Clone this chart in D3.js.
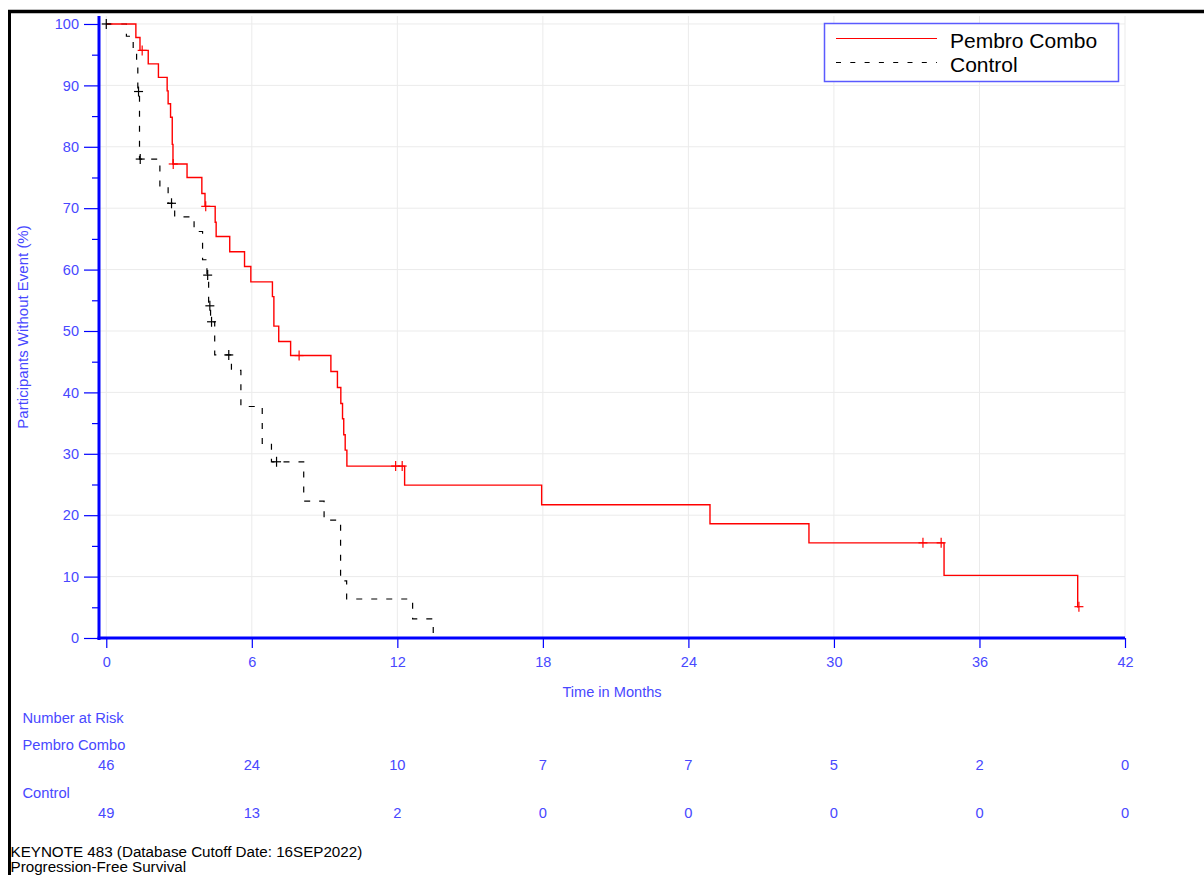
<!DOCTYPE html>
<html>
<head>
<meta charset="utf-8">
<script src="https://cdn.jsdelivr.net/npm/d3@7"></script>
<style>
  body { margin: 0; background: #fff; }
  svg text { font-family: "Liberation Sans", Arial, sans-serif; }
</style>
</head>
<body>
<div id="chart"></div>
<script>
// Kaplan-Meier steps (months, % without event)
var pembroTimes = [0, 1.22, 1.39, 1.73, 2.15, 2.51, 2.55, 2.65, 2.72, 2.75, 3.33, 3.94, 4.07, 4.49, 4.53, 5.09, 5.70, 5.96, 6.85, 6.91, 7.11, 7.60, 9.26, 9.53, 9.67, 9.74, 9.79, 9.85, 9.92, 12.30, 17.95, 24.89, 28.97, 34.54, 40.05];
var pembroSurv = [100, 97.8, 95.7, 93.5, 91.3, 89.1, 87.0, 84.8, 80.4, 77.2, 75.0, 72.4, 70.3, 67.7, 65.4, 62.9, 60.5, 58.0, 55.6, 50.8, 48.3, 46.0, 43.4, 40.8, 38.2, 35.7, 33.1, 30.6, 28.0, 24.9, 21.7, 18.6, 15.5, 10.2, 5.1];
var pembroCensor = [1.48, 2.76, 4.10, 7.95, 11.93, 12.20, 33.67, 34.42, 40.10];

var controlTimes = [0, 0.83, 1.11, 1.25, 1.30, 1.37, 2.21, 2.55, 2.82, 3.62, 3.97, 4.15, 4.22, 4.30, 4.47, 5.16, 5.55, 6.43, 6.81, 8.14, 8.98, 9.66, 9.91, 12.63, 13.48];
var controlSurv = [100, 98.0, 96.0, 93.9, 89.0, 78.0, 73.5, 70.8, 68.6, 66.2, 61.6, 59.1, 54.1, 51.5, 46.1, 43.6, 37.7, 31.7, 28.7, 22.3, 19.2, 9.3, 6.35, 3.1, 0];
var controlCensor = [0, 1.33, 1.40, 2.69, 4.18, 4.27, 4.34, 5.05, 7.02];

// number at risk table
var riskTimes = [0, 6, 12, 18, 24, 30, 36, 42];
var pembroRisk = [46, 24, 10, 7, 7, 5, 2, 0];
var controlRisk = [49, 13, 2, 0, 0, 0, 0, 0];

var xTicks = [0, 6, 12, 18, 24, 30, 36, 42];
var yTicks = [0, 10, 20, 30, 40, 50, 60, 70, 80, 90, 100];
var yMinor = [5, 15, 25, 35, 45, 55, 65, 75, 85, 95];

var blue = "#0000ff", textBlue = "#4848ff", grid = "#ebebeb";

var svg = d3.select("#chart").append("svg")
    .attr("width", 1204)
    .attr("height", 875);

var x = d3.scaleLinear().domain([-0.3, 42]).range([99, 1125]);
var y = d3.scaleLinear().domain([0, 101.3]).range([638, 16]);

// grid
svg.append("g").selectAll("line.v")
    .data(xTicks)
    .enter().append("line")
    .attr("x1", d => x(d)).attr("x2", d => x(d))
    .attr("y1", y(101.3)).attr("y2", y(0))
    .attr("stroke", grid).attr("stroke-width", 1);
svg.append("g").selectAll("line.h")
    .data(yTicks)
    .enter().append("line")
    .attr("x1", x(-0.3)).attr("x2", x(42))
    .attr("y1", d => y(d)).attr("y2", d => y(d))
    .attr("stroke", grid).attr("stroke-width", 1);

// axes
var yAxis = svg.append("g")
    .attr("transform", "translate(" + x(-0.3) + ",0)")
    .call(d3.axisLeft(y).tickValues(yTicks).tickSize(15).tickPadding(5).tickSizeOuter(0));
svg.append("g")
    .attr("transform", "translate(" + x(-0.3) + ",0)")
    .call(d3.axisLeft(y).tickValues(yMinor).tickSize(7).tickFormat("").tickSizeOuter(0))
    .select(".domain").remove();
var xAxis = svg.append("g")
    .attr("transform", "translate(0," + y(0) + ")")
    .call(d3.axisBottom(x).tickValues(xTicks).tickSize(10).tickPadding(9).tickSizeOuter(0));

[yAxis, xAxis].forEach(function (a) {
    a.select(".domain").remove();
    a.selectAll(".tick text").attr("fill", textBlue).style("font-size", "14.5px");
});
svg.selectAll(".tick line").attr("stroke", blue).attr("stroke-width", 1.2);

svg.append("line")
    .attr("x1", x(-0.3)).attr("x2", x(-0.3))
    .attr("y1", y(101.3)).attr("y2", y(0) + 2)
    .attr("stroke", blue).attr("stroke-width", 3);
svg.append("line")
    .attr("x1", x(-0.3) - 1.5).attr("x2", x(42))
    .attr("y1", y(0)).attr("y2", y(0))
    .attr("stroke", blue).attr("stroke-width", 3);

// axis titles
svg.append("text")
    .attr("x", 612).attr("y", 697)
    .attr("text-anchor", "middle")
    .attr("fill", textBlue).style("font-size", "14.6px")
    .text("Time in Months");
svg.append("text")
    .attr("transform", "translate(28," + 327 + ") rotate(-90)")
    .attr("text-anchor", "middle")
    .attr("fill", textBlue).style("font-size", "15px")
    .text("Participants Without Event (%)");

// KM curves
function stepPoints(times, surv, end) {
    var pts = times.map((t, i) => [t, surv[i]]);
    if (end != null) pts.push([end, surv[surv.length - 1]]);
    return pts;
}
function survAt(times, surv, t) {
    var v = surv[0];
    for (var i = 0; i < times.length; i++) if (times[i] <= t) v = surv[i];
    return v;
}
var line = d3.line().x(d => x(d[0])).y(d => y(d[1])).curve(d3.curveStepAfter);

svg.append("path")
    .datum(stepPoints(controlTimes, controlSurv, null))
    .attr("d", line)
    .attr("fill", "none").attr("stroke", "#000")
    .attr("stroke-width", 1.2).attr("stroke-dasharray", "6,9");

svg.append("path")
    .datum(stepPoints(pembroTimes, pembroSurv, 40.1))
    .attr("d", line)
    .attr("fill", "none").attr("stroke", "#ff0000")
    .attr("stroke-width", 1.4);

function censorMarks(times, surv, cens, color) {
    var g = svg.append("g").attr("stroke", color).attr("stroke-width", 1.2);
    cens.forEach(function (t) {
        var cx = x(t), cy = y(survAt(times, surv, t));
        g.append("line").attr("x1", cx - 4.5).attr("x2", cx + 4.5).attr("y1", cy).attr("y2", cy);
        g.append("line").attr("x1", cx).attr("x2", cx).attr("y1", cy - 5).attr("y2", cy + 5);
    });
}
censorMarks(controlTimes, controlSurv, controlCensor, "#000");
censorMarks(pembroTimes, pembroSurv, pembroCensor, "#ff0000");

// legend
var leg = svg.append("g");
leg.append("rect")
    .attr("x", 824.5).attr("y", 23.5).attr("width", 294).attr("height", 58)
    .attr("fill", "#fff").attr("stroke", "#5a5aff").attr("stroke-width", 1.5);
leg.append("line").attr("x1", 836).attr("x2", 937).attr("y1", 38.5).attr("y2", 38.5)
    .attr("stroke", "#ff0000").attr("stroke-width", 1.2);
leg.append("line").attr("x1", 836).attr("x2", 937).attr("y1", 62.5).attr("y2", 62.5)
    .attr("stroke", "#000").attr("stroke-width", 1.2).attr("stroke-dasharray", "5,9.3");
leg.append("text").attr("x", 950).attr("y", 47.5).style("font-size", "21px").attr("fill", "#000").text("Pembro Combo");
leg.append("text").attr("x", 950).attr("y", 71.5).style("font-size", "21px").attr("fill", "#000").text("Control");

// number at risk
var risk = svg.append("g").attr("fill", textBlue).style("font-size", "14.7px");
risk.append("text").attr("x", 22.5).attr("y", 722.5).text("Number at Risk");
risk.append("text").attr("x", 22.5).attr("y", 750).text("Pembro Combo");
risk.append("text").attr("x", 22.5).attr("y", 797.5).text("Control");
risk.selectAll("text.p").data(pembroRisk).enter().append("text")
    .attr("x", (d, i) => x(riskTimes[i])).attr("y", 770)
    .attr("text-anchor", "middle").text(d => d);
risk.selectAll("text.c").data(controlRisk).enter().append("text")
    .attr("x", (d, i) => x(riskTimes[i])).attr("y", 817.5)
    .attr("text-anchor", "middle").text(d => d);

// footnote
svg.append("text").attr("x", 10.5).attr("y", 856.5).style("font-size", "15.2px").attr("fill", "#000")
    .text("KEYNOTE 483 (Database Cutoff Date: 16SEP2022)");
svg.append("text").attr("x", 10.5).attr("y", 872).style("font-size", "15.2px").attr("fill", "#000")
    .text("Progression-Free Survival");

// outer frame
svg.append("line").attr("x1", 8).attr("x2", 1204).attr("y1", 11.5).attr("y2", 11.5)
    .attr("stroke", "#000").attr("stroke-width", 3.5);
svg.append("line").attr("x1", 9.5).attr("x2", 9.5).attr("y1", 10).attr("y2", 875)
    .attr("stroke", "#000").attr("stroke-width", 3);
</script>
</body>
</html>
